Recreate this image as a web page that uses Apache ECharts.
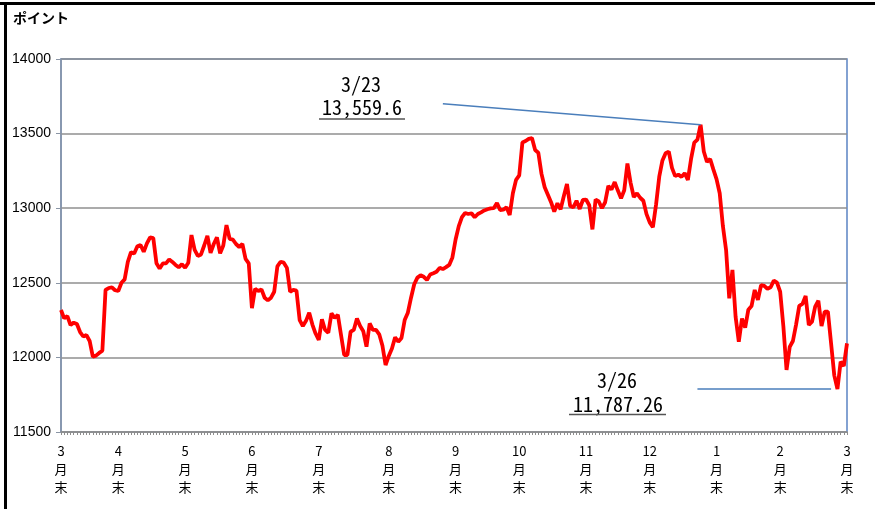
<!DOCTYPE html>
<html>
<head>
<meta charset="utf-8">
<script src="https://cdn.jsdelivr.net/npm/echarts@6/dist/echarts.min.js"></script>
<style>
  html, body { margin: 0; padding: 0; background: #fff; }
  #chart { width: 875px; height: 509px; }
</style>
</head>
<body>
<div id="chart"></div>
<script>
// 月末の位置（営業日インデックス）と月ラベル
const monthEnds = [0, 18, 39, 60, 81, 103, 124, 144, 165, 185, 206, 226, 247];
const monthNames = ["3", "4", "5", "6", "7", "8", "9", "10", "11", "12", "1", "2", "3"];

// 日次終値（ポイント）
const closes = [
  12318, 12262, 12277, 12217, 12233, 12224, 12170, 12140, 12150, 12110,
  12005, 12012, 12030, 12045, 12452, 12465, 12470, 12450, 12445, 12500,
  12523, 12640, 12705, 12697, 12745, 12753, 12708, 12764, 12805, 12800,
  12631, 12595, 12630, 12630, 12657, 12640, 12620, 12604, 12625, 12600,
  12635, 12820, 12720, 12680, 12690, 12750, 12814, 12700, 12760, 12805,
  12697, 12750, 12887, 12795, 12790, 12760, 12740, 12760, 12660, 12630,
  12330, 12460, 12445, 12456, 12400, 12382, 12400, 12440, 12610, 12641,
  12635, 12600, 12440, 12452, 12447, 12250, 12210, 12245, 12300, 12220,
  12160, 12117, 12255, 12184, 12165, 12295, 12265, 12285, 12150, 12016,
  12016, 12172, 12184, 12260, 12210, 12175, 12072, 12228, 12184, 12184,
  12155, 12080, 11949, 12010, 12060, 12135, 12105, 12130, 12250, 12300,
  12400, 12490, 12535, 12550, 12540, 12519, 12555, 12564, 12574, 12600,
  12592, 12605, 12620, 12670, 12790, 12880, 12940, 12968, 12961, 12966,
  12939, 12961, 12972, 12985, 12993, 12999, 13000, 13035, 12988, 12990,
  13006, 12955, 13100, 13190, 13220, 13440, 13450, 13465, 13470, 13390,
  13372, 13230, 13140, 13090, 13040, 12977, 13033, 12992, 13080, 13162,
  13015, 13006, 13050, 12995, 13055, 13058, 13020, 12858, 13058, 13045,
  13000, 13040, 13149, 13126, 13175, 13118, 13066, 13120, 13300, 13170,
  13075, 13100, 13070, 13050, 12960, 12905, 12872, 13025, 13211, 13320,
  13368, 13379, 13270, 13215, 13225, 13210, 13235, 13190, 13330, 13440,
  13460, 13559.6, 13380, 13310, 13330, 13260, 13195, 13100, 12880, 12720,
  12396, 12586, 12270, 12105, 12260, 12200, 12320, 12344, 12452, 12385,
  12485, 12480, 12460, 12470, 12515, 12501, 12440, 12210, 11916, 12070,
  12110, 12220, 12345, 12358, 12411, 12217, 12239, 12340, 12380, 12210,
  12306, 12306, 12094, 11880, 11787.26, 11971, 11942, 12094
];

// 注記（高値・安値）
const highIdx = 201, highLabel = ["3/23", "13,559.6"];
const lowIdx = 244, lowLabel = ["3/26", "11,787.26"];

const categories = closes.map((v, i) => {
  const k = monthEnds.indexOf(i);
  return k >= 0 ? monthNames[k] : "d" + i;
});

const chart = echarts.init(document.getElementById("chart"));
const annoFont = "'Noto Sans Mono CJK JP', 'DejaVu Sans Mono', monospace";

chart.setOption({
  animation: false,
  grid: {
    left: 61,
    right: 28,
    top: 59,
    bottom: 77,
    show: true,
    borderColor: "#5b84c4",
    borderWidth: 1.5,
  },
  xAxis: {
    type: "category",
    data: categories,
    boundaryGap: false,
    axisLine: { lineStyle: { color: "#8d8d8d", width: 1.5 } },
    axisTick: {
      show: true,
      interval: 0,
      length: 3,
      lineStyle: { color: "#8d8d8d", width: 1 },
    },
    axisLabel: {
      interval: (i) => monthEnds.indexOf(i) >= 0,
      formatter: (v) => v + "\n月\n末",
      color: "#000",
      fontSize: 13,
      lineHeight: 18,
      margin: 10,
      fontFamily: "'Noto Sans CJK JP', sans-serif",
    },
    splitLine: { show: false },
  },
  yAxis: {
    type: "value",
    min: 11500,
    max: 14000,
    interval: 500,
    axisLine: { show: true, lineStyle: { color: "#8a95a5", width: 1.5 } },
    axisTick: { show: true, length: 5, lineStyle: { color: "#8a95a5" } },
    axisLabel: {
      formatter: (v) => String(v),
      color: "#000",
      fontSize: 14,
      margin: 10,
      fontFamily: "'Liberation Sans', Arial, sans-serif",
    },
    splitLine: { lineStyle: { color: "#8f8f8f", width: 1.5 } },
  },
  series: [
    {
      type: "line",
      data: closes,
      symbol: "none",
      lineStyle: { color: "#ff0000", width: 3.8 },
      z: 3,
      markLine: {
        silent: true,
        symbol: "none",
        label: { show: false },
        lineStyle: { color: "#4a7ebb", width: 1.5, type: "solid" },
        data: [
          [{ coord: [120, 13700] }, { coord: [highIdx, closes[highIdx]] }],
          [{ coord: [200, closes[lowIdx]] }, { coord: [242, closes[lowIdx]] }],
        ],
      },
    },
  ],
  graphic: [
    // 外枠
    { type: "rect", shape: { x: 0, y: 2, width: 875, height: 3 }, style: { fill: "#000" } },
    { type: "rect", shape: { x: 4, y: 2, width: 3, height: 507 }, style: { fill: "#000" } },
    {
      type: "text", left: 13, top: 11,
      style: { text: "ポイント", font: "bold 14px 'Noto Sans CJK JP'", fill: "#000" },
    },
    {
      type: "text", x: 361, y: 84,
      style: { text: highLabel[0], font: "20px " + annoFont, fill: "#000", align: "center", verticalAlign: "middle" },
    },
    {
      type: "text", x: 362, y: 107,
      style: { text: highLabel[1], font: "20px " + annoFont, fill: "#000", align: "center", verticalAlign: "middle" },
    },
    { type: "line", shape: { x1: 319, y1: 119, x2: 405, y2: 119 }, style: { stroke: "#555", lineWidth: 1.5 } },
    {
      type: "text", x: 617, y: 380,
      style: { text: lowLabel[0], font: "20px " + annoFont, fill: "#000", align: "center", verticalAlign: "middle" },
    },
    {
      type: "text", x: 618, y: 404,
      style: { text: lowLabel[1], font: "20px " + annoFont, fill: "#000", align: "center", verticalAlign: "middle" },
    },
    { type: "line", shape: { x1: 569, y1: 414.5, x2: 666, y2: 414.5 }, style: { stroke: "#555", lineWidth: 1.5 } },
  ],
});
</script>
</body>
</html>
